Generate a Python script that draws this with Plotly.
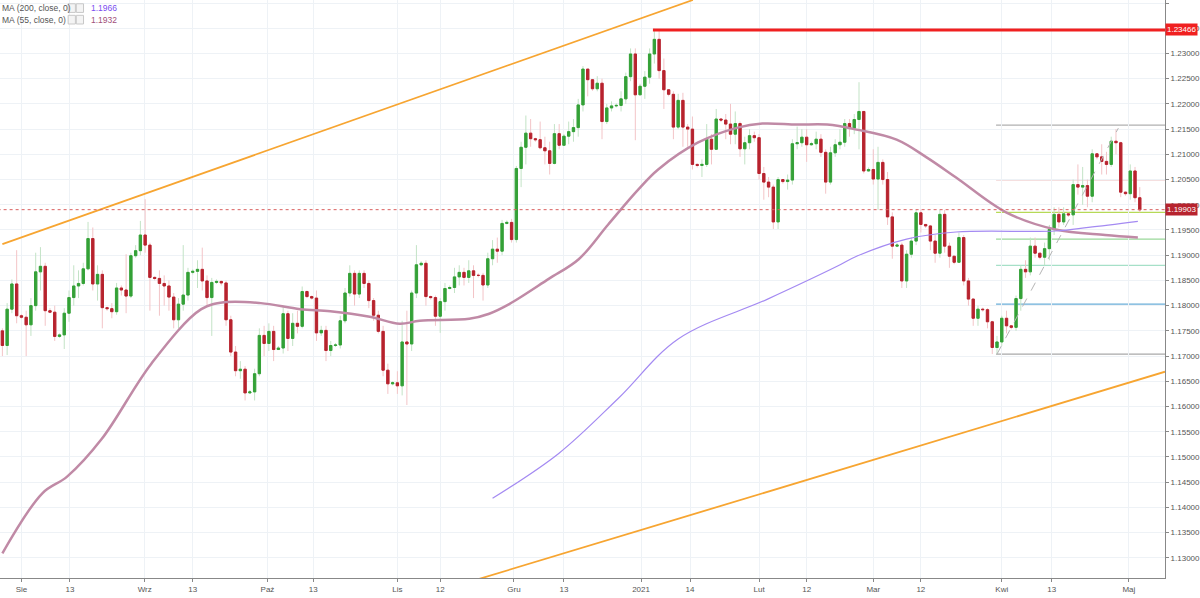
import plotly.graph_objects as go

first_open = 1.1750
closes = [1.1721,1.1793,1.1843,1.1780,1.1777,1.1762,1.1800,1.1867,1.1878,1.1790,
1.1787,1.1739,1.1742,1.1785,1.1816,1.1839,1.1844,1.1873,1.1933,1.1843,
1.1862,1.1796,1.1794,1.1788,1.1835,1.1831,1.1819,1.1899,1.1909,1.1940,
1.1920,1.1856,1.1854,1.1844,1.1839,1.1817,1.1772,1.1803,1.1821,1.1866,
1.1868,1.1872,1.1849,1.1816,1.1846,1.1848,1.1845,1.1772,1.1708,1.1671,
1.1674,1.1627,1.1629,1.1665,1.1741,1.1725,1.1749,1.1713,1.1716,1.1784,
1.1735,1.1765,1.1759,1.1828,1.1818,1.1815,1.1746,1.1751,1.1711,1.1721,
1.1722,1.1770,1.1825,1.1864,1.1823,1.1864,1.1844,1.1810,1.1781,1.1749,
1.1672,1.1645,1.1647,1.1641,1.1728,1.1724,1.1825,1.1881,1.1884,1.1818,
1.1816,1.1779,1.1808,1.1834,1.1836,1.1857,1.1866,1.1856,1.1869,1.1860,
1.1860,1.1841,1.1893,1.1912,1.1908,1.1963,1.1965,1.1931,1.2072,1.2114,
1.2142,1.2131,1.2129,1.2113,1.2107,1.2082,1.2141,1.2118,1.2136,1.2145,
1.2153,1.2198,1.2269,1.2248,1.2230,1.2241,1.2165,1.2192,1.2196,1.2197,
1.2210,1.2254,1.2299,1.2218,1.2235,1.2253,1.2299,1.2328,1.2266,1.2228,
1.2219,1.2154,1.2207,1.2154,1.2150,1.2080,1.2078,1.2080,1.2130,1.2110,
1.2170,1.2168,1.2160,1.2140,1.2161,1.2111,1.2123,1.2137,1.2133,1.2062,
1.2045,1.2035,1.1966,1.2050,1.2046,1.2049,1.2121,1.2123,1.2134,1.2119,
1.2121,1.2130,1.2104,1.2045,1.2103,1.2119,1.2124,1.2161,1.2152,1.2169,
1.2185,1.2067,1.2070,1.2051,1.2084,1.2050,1.1976,1.1918,1.1920,1.1849,
1.1902,1.1928,1.1984,1.1961,1.1958,1.1928,1.1904,1.1981,1.1918,1.1898,
1.1886,1.1935,1.1849,1.1813,1.1775,1.1793,1.1792,1.1768,1.1717,1.1728,
1.1775,1.1760,1.1757,1.1814,1.1872,1.1867,1.1918,1.1904,1.1896,1.1913,
1.1951,1.1981,1.1966,1.1982,1.1980,1.2040,1.2035,1.2038,1.2017,1.2101,
1.2095,1.2086,1.2080,1.2126,1.2123,1.2025,1.2022,1.2067,1.2014,1.1990]
highs = [1.1755,1.1805,1.1852,1.1910,1.1783,1.1790,1.1815,1.1905,1.1916,1.1885,
1.1795,1.1800,1.1745,1.1795,1.1830,1.1880,1.1870,1.1885,1.1966,1.1955,
1.1880,1.1870,1.1798,1.1805,1.1845,1.1840,1.1902,1.1905,1.1920,1.1968,
1.2011,1.1925,1.1858,1.1870,1.1860,1.1850,1.1825,1.1815,1.1920,1.1875,
1.1872,1.1890,1.1915,1.1860,1.1855,1.1852,1.1850,1.1850,1.1780,1.1720,
1.1690,1.1680,1.1633,1.1675,1.1755,1.1760,1.1765,1.1760,1.1720,1.1800,
1.1790,1.1785,1.1790,1.1838,1.1830,1.1820,1.1830,1.1760,1.1760,1.1730,
1.1726,1.1780,1.1835,1.1880,1.1870,1.1870,1.1870,1.1850,1.1815,1.1790,
1.1760,1.1685,1.1650,1.1670,1.1770,1.1790,1.1830,1.1920,1.1888,1.1890,
1.1820,1.1820,1.1815,1.1845,1.1840,1.1875,1.1880,1.1875,1.1890,1.1880,
1.1864,1.1865,1.1905,1.1930,1.1935,1.1970,1.1969,1.1972,1.2077,1.2125,
1.2177,1.2170,1.2133,1.2165,1.2135,1.2125,1.2160,1.2160,1.2140,1.2165,
1.2170,1.2210,1.2275,1.2265,1.2236,1.2255,1.2250,1.2200,1.2205,1.2201,
1.2225,1.2262,1.2310,1.2310,1.2240,1.2265,1.2310,1.2349,1.2345,1.2290,
1.2225,1.2225,1.2220,1.2222,1.2160,1.2175,1.2082,1.2090,1.2160,1.2140,
1.2190,1.2172,1.2180,1.2200,1.2185,1.2165,1.2135,1.2150,1.2145,1.2140,
1.2075,1.2055,1.2040,1.2055,1.2050,1.2060,1.2130,1.2155,1.2150,1.2150,
1.2125,1.2145,1.2140,1.2110,1.2115,1.2130,1.2150,1.2170,1.2170,1.2180,
1.2243,1.2185,1.2074,1.2110,1.2115,1.2090,1.2065,1.1985,1.1924,1.1925,
1.1910,1.1935,1.1990,1.1990,1.1962,1.1960,1.1940,1.1990,1.1990,1.1925,
1.1890,1.1945,1.1940,1.1855,1.1815,1.1800,1.1796,1.1795,1.1770,1.1740,
1.1780,1.1790,1.1761,1.1820,1.1880,1.1890,1.1935,1.1935,1.1900,1.1925,
1.1960,1.1995,1.1995,1.1995,1.1984,1.2050,1.2080,1.2075,1.2050,1.2110,
1.2100,1.2120,1.2105,1.2135,1.2150,1.2125,1.2026,1.2080,1.2075,1.2035]
lows = [1.1700,1.1702,1.1785,1.1765,1.1774,1.1700,1.1740,1.1790,1.1830,1.1760,
1.1785,1.1730,1.1736,1.1714,1.1768,1.1800,1.1815,1.1840,1.1870,1.1830,
1.1810,1.1755,1.1790,1.1775,1.1782,1.1820,1.1785,1.1815,1.1895,1.1900,
1.1905,1.1790,1.1850,1.1780,1.1800,1.1790,1.1755,1.1755,1.1790,1.1810,
1.1862,1.1835,1.1830,1.1800,1.1740,1.1843,1.1840,1.1760,1.1700,1.1660,
1.1655,1.1612,1.1625,1.1612,1.1660,1.1700,1.1710,1.1690,1.1712,1.1705,
1.1710,1.1720,1.1745,1.1755,1.1815,1.1812,1.1730,1.1740,1.1690,1.1700,
1.1718,1.1715,1.1765,1.1818,1.1800,1.1815,1.1835,1.1795,1.1770,1.1745,
1.1660,1.1625,1.1642,1.1625,1.1622,1.1603,1.1710,1.1815,1.1878,1.1800,
1.1812,1.1760,1.1746,1.1790,1.1832,1.1825,1.1840,1.1840,1.1845,1.1815,
1.1856,1.1810,1.1835,1.1880,1.1885,1.1900,1.1961,1.1925,1.1925,1.2035,
1.2080,1.2115,1.2125,1.2110,1.2080,1.2060,1.2080,1.2110,1.2130,1.2120,
1.2125,1.2135,1.2185,1.2215,1.2226,1.2225,1.2130,1.2160,1.2185,1.2193,
1.2185,1.2200,1.2245,1.2128,1.2230,1.2210,1.2240,1.2280,1.2250,1.2190,
1.2215,1.2130,1.2150,1.2115,1.2115,1.2070,1.2074,1.2055,1.2075,1.2080,
1.2130,1.2164,1.2130,1.2120,1.2120,1.2095,1.2080,1.2110,1.2125,1.2050,
1.2010,1.2015,1.1952,1.1952,1.2042,1.2030,1.2040,1.2110,1.2115,1.2085,
1.2117,1.2110,1.2095,1.2022,1.2040,1.2095,1.2110,1.2115,1.2135,1.2140,
1.2110,1.2062,1.2066,1.2040,1.1990,1.2040,1.1960,1.1893,1.1916,1.1835,
1.1835,1.1895,1.1920,1.1945,1.1954,1.1910,1.1885,1.1895,1.1905,1.1875,
1.1882,1.1885,1.1840,1.1800,1.1760,1.1760,1.1788,1.1755,1.1704,1.1704,
1.1720,1.1745,1.1753,1.1750,1.1790,1.1855,1.1860,1.1895,1.1892,1.1880,
1.1890,1.1940,1.1955,1.1960,1.1976,1.1960,1.2020,1.2000,1.1995,1.2005,
1.2090,1.2060,1.2060,1.2075,1.2100,1.2015,1.2018,1.2010,1.2005,1.1985]

# Moving averages (index, value)
ma55_idx = [0,8.4,13.6,20.9,31.3,41.8,47,54.3,62.6,68.9,77.2,83.5,87.7,98.1,102.3,106.5,114.8,121.1,127.3,133.6,137.8,146.1,154.5,159.7,167,173.3,179.5,187.9,194.2,200.4,210.9,221.3,231.7,238.6]
ma55_val = [1.1309,1.1428,1.1461,1.1536,1.1685,1.1793,1.1807,1.1805,1.1793,1.1789,1.1778,1.1764,1.1770,1.1774,1.1784,1.1803,1.1853,1.1892,1.1961,1.2030,1.2070,1.2123,1.2153,1.2161,1.2159,1.2159,1.2149,1.2129,1.2094,1.2054,1.1985,1.1951,1.1940,1.1935]
ma200_idx = [103,116.9,129.4,142,160.8,175.4,179.5,190,200.4,221.3,228.2,238.6]
ma200_val = [1.1418,1.1507,1.1616,1.1734,1.1813,1.1878,1.1898,1.1932,1.1946,1.1948,1.1955,1.1967]

upper_trend_idx = [0, 145.1]
upper_trend_val = [1.1922, 1.2406]
lower_trend_idx = [98.7, 244.3]
lower_trend_val = [1.1254, 1.1669]

fib_start = 208.8
fib_levels = [1.2158, 1.2050, 1.1985, 1.1932, 1.1880, 1.1803, 1.1704]
fib_colors = ["#b0b0b0", "#d88080", "#b6d957", "#9ad89a", "#a6e0c8", "#6aaed8", "#a8a8a8"]
fib_diag_idx = [209, 234.5]
fib_diag_val = [1.1704, 1.2152]

resistance = 1.23466
resistance_start = 136.7
last_price = 1.19903

tick_pos = [4,14.2,29.9,40,55.7,65.3,83,92,107.5,118,134.2,144.5,159,169,183,193,210,220.5,236.7]
tick_text = ["Sie","13","Wrz","13","Paź","13","Lis","12","Gru","13","2021","14","Lut","12","Mar","12","Kwi","13","Maj"]

n = len(closes)
idx = list(range(n))
opens = [first_open] + closes[:-1]
highs = [max(h, o, c) for h, o, c in zip(highs, opens, closes)]
lows = [min(l, o, c) for l, o, c in zip(lows, opens, closes)]
XMAX = 244.3

fig = go.Figure()
fig.add_trace(go.Candlestick(x=idx, open=opens, high=highs, low=lows, close=closes,
    increasing=dict(line=dict(color="#c3e3c6", width=1), fillcolor="#c3e3c6"),
    decreasing=dict(line=dict(color="#f3c4c7", width=1), fillcolor="#f3c4c7"),
    whiskerwidth=0, showlegend=False, hoverinfo="skip"))
fig.add_trace(go.Candlestick(x=idx, open=opens, close=closes,
    high=[max(o, c) for o, c in zip(opens, closes)], low=[min(o, c) for o, c in zip(opens, closes)],
    increasing=dict(line=dict(color="#34a137", width=1), fillcolor="#34a137"),
    decreasing=dict(line=dict(color="#b7232e", width=1), fillcolor="#b7232e"),
    whiskerwidth=0, showlegend=False))

fig.add_trace(go.Scatter(x=ma55_idx, y=ma55_val, mode="lines", line=dict(color="#c08aa6", width=2.5, shape="spline"), showlegend=False))
fig.add_trace(go.Scatter(x=ma200_idx, y=ma200_val, mode="lines", line=dict(color="#a48af2", width=1.2, shape="spline"), showlegend=False))
fig.add_trace(go.Scatter(x=upper_trend_idx, y=upper_trend_val, mode="lines", line=dict(color="#f7a531", width=1.8), showlegend=False))
fig.add_trace(go.Scatter(x=lower_trend_idx, y=lower_trend_val, mode="lines", line=dict(color="#f7a531", width=1.8), showlegend=False))
fig.add_trace(go.Scatter(x=fib_diag_idx, y=fib_diag_val, mode="lines", line=dict(color="#b5b5b5", width=1, dash="dash"), showlegend=False))

shapes = []
for lv, col in zip(fib_levels, fib_colors):
    shapes.append(dict(type="line", x0=fib_start, x1=XMAX, y0=lv, y1=lv, line=dict(color=col, width=1.3), layer="below"))
shapes.append(dict(type="line", x0=resistance_start, x1=XMAX, y0=resistance, y1=resistance, line=dict(color="#f02020", width=3)))
shapes.append(dict(type="line", x0=-1, x1=XMAX, y0=last_price, y1=last_price, line=dict(color="#d96060", width=1, dash="dot")))
for yy in [0.986, 0.966]:
    for bx in [0.0585, 0.0655]:
        shapes.append(dict(type="rect", xref="paper", yref="paper", x0=bx, x1=bx + 0.0062, y0=yy - 0.0075, y1=yy + 0.0075,
                           line=dict(color="#c8c8c8", width=1), fillcolor="#f4f4f4"))

ann = [
    dict(xref="paper", yref="paper", x=0.0, y=0.986, text="MA (200, close, 0)", showarrow=False, xanchor="left", yanchor="middle", font=dict(size=8.5, color="#555")),
    dict(xref="paper", yref="paper", x=0.0765, y=0.986, text="1.1966", showarrow=False, xanchor="left", yanchor="middle", font=dict(size=8.5, color="#7b4df0")),
    dict(xref="paper", yref="paper", x=0.0, y=0.966, text="MA (55, close, 0)", showarrow=False, xanchor="left", yanchor="middle", font=dict(size=8.5, color="#555")),
    dict(xref="paper", yref="paper", x=0.0765, y=0.966, text="1.1932", showarrow=False, xanchor="left", yanchor="middle", font=dict(size=8.5, color="#a0507a")),
    dict(xref="paper", yref="y", x=1.0, y=resistance, text="1.23466", showarrow=False, xanchor="left", yanchor="middle", bgcolor="#f02020", font=dict(size=8, color="white"), borderpad=1),
    dict(xref="paper", yref="y", x=1.0, y=last_price, text="1.19903", showarrow=False, xanchor="left", yanchor="middle", bgcolor="#b7232e", font=dict(size=8, color="white"), borderpad=1),
]

fig.update_layout(
    width=1200, height=598, margin=dict(l=0, r=30, t=0, b=20),
    paper_bgcolor="white", plot_bgcolor="white",
    shapes=shapes, annotations=ann,
    xaxis=dict(range=[-0.5, XMAX], tickvals=tick_pos, ticktext=tick_text, rangeslider=dict(visible=False),
               showgrid=True, gridcolor="#eef2f6", ticks="outside", ticklen=3, tickcolor="#888",
               tickfont=dict(size=8, color="#555", family="Arial"), showline=True, linecolor="#888", zeroline=False),
    yaxis=dict(range=[1.1260, 1.2406], side="right", dtick=0.005, tickformat=".5f", showgrid=True, gridcolor="#eef2f6",
               ticks="outside", ticklen=3, tickcolor="#888", tickfont=dict(size=8, color="#555", family="Arial"),
               showline=True, linecolor="#888", zeroline=False),
    font=dict(family="Arial"),
)
fig.write_html("out.html", config={"displayModeBar": False},
               post_script="document.body.style.margin='0';document.body.style.overflow='hidden';")
